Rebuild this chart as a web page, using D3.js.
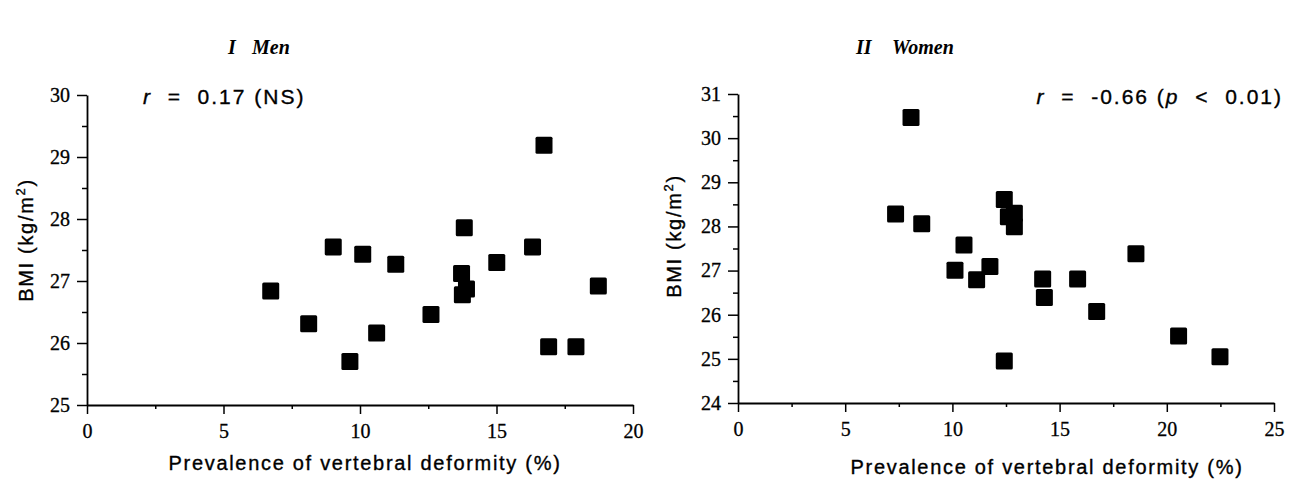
<!DOCTYPE html>
<html>
<head>
<meta charset="utf-8">
<script src="https://cdn.jsdelivr.net/npm/d3@7"></script>
<style>
  body { margin: 0; background: #fff; }
  svg { display: block; }
  .tick-lab { font-family: "Liberation Serif", serif; font-size: 20px; stroke: #000; stroke-width: 0.3px; }
  .ax-title { font-family: "Liberation Sans", sans-serif; font-size: 20px; letter-spacing: 1.7px; stroke: #000; stroke-width: 0.35px; }
  .panel-title { font-family: "Liberation Serif", serif; font-size: 20px; font-style: italic; font-weight: bold; }
  .stat { font-family: "Liberation Sans", sans-serif; font-size: 21px; letter-spacing: 2px; stroke: #000; stroke-width: 0.35px; }
</style>
</head>
<body>
<svg id="chart" width="1297" height="483"></svg>
<script>
// --- data ---
const menPrevalence = [6.73, 8.12, 9.02, 9.63, 10.10, 10.61, 11.31, 12.60, 13.72, 13.75, 13.90, 13.82, 15.01, 16.32, 16.74, 16.91, 17.91, 18.73];
const menBMI        = [26.84, 26.31, 27.55, 25.70, 27.43, 26.16, 27.27, 26.46, 27.12, 26.78, 26.87, 27.86, 27.30, 27.55, 29.19, 25.94, 25.94, 26.92];

const womenPrevalence = [7.35, 8.07, 8.57, 10.12, 10.54, 11.13, 11.75, 12.42, 12.61, 12.89, 12.89, 12.42, 14.21, 14.29, 15.84, 16.73, 18.56, 20.55, 22.48];
const womenBMI        = [28.28, 30.47, 28.06, 27.01, 27.58, 26.79, 27.09, 28.61, 28.22, 28.30, 27.99, 24.95, 26.81, 26.39, 26.81, 26.07, 27.38, 25.52, 25.05];

const menXTicks   = [0, 5, 10, 15, 20];
const menYTicks   = [25, 26, 27, 28, 29, 30];
const womenXTicks = [0, 5, 10, 15, 20, 25];
const womenYTicks = [24, 25, 26, 27, 28, 29, 30, 31];

const xTitle = "Prevalence of vertebral deformity (%)";

const svg = d3.select("#chart");

function drawPanel(cfg) {
  const g = svg.append("g");

  const x = d3.scaleLinear().domain(cfg.xDomain).range(cfg.xRange);
  const y = d3.scaleLinear().domain(cfg.yDomain).range(cfg.yRange);

  // minor ticks (half steps)
  const xMinor = d3.range(cfg.xDomain[0] + 2.5, cfg.xDomain[1], 5);
  const yMinor = d3.range(cfg.yDomain[0] + 0.5, cfg.yDomain[1], 1);

  const xAxisY = cfg.yRange[0];
  const yAxisX = cfg.xRange[0];

  const xAx = g.append("g").attr("transform", `translate(0,${xAxisY})`)
    .call(d3.axisBottom(x).tickValues(cfg.xTicks).tickSize(9).tickSizeOuter(0).tickFormat(d3.format("d")));
  g.append("g").attr("transform", `translate(0,${xAxisY})`)
    .call(d3.axisBottom(x).tickValues(xMinor).tickSize(4).tickSizeOuter(0).tickFormat(""))
    .select(".domain").remove();

  const yAx = g.append("g").attr("transform", `translate(${yAxisX},0)`)
    .call(d3.axisLeft(y).tickValues(cfg.yTicks).tickSize(10).tickSizeOuter(0).tickFormat(d3.format("d")));
  g.append("g").attr("transform", `translate(${yAxisX},0)`)
    .call(d3.axisLeft(y).tickValues(yMinor).tickSize(5).tickSizeOuter(0).tickFormat(""))
    .select(".domain").remove();

  g.selectAll("g").attr("font-size", null).attr("font-family", null);
  g.selectAll(".domain").attr("stroke", "#000").attr("stroke-width", 1.8);
  g.selectAll(".tick line").attr("stroke", "#000").attr("stroke-width", 1.5);
  xAx.selectAll(".tick text").attr("class", "tick-lab").attr("y", 12).attr("dy", 21).attr("fill", "#000");
  yAx.selectAll(".tick text").attr("class", "tick-lab").attr("x", -17).attr("fill", "#000");

  // squares
  const s = 17;
  g.append("g").selectAll("rect")
    .data(cfg.xs.map((v, i) => [v, cfg.ys[i]]))
    .join("rect")
    .attr("x", d => x(d[0]) - s / 2)
    .attr("y", d => y(d[1]) - s / 2)
    .attr("width", s)
    .attr("height", s)
    .attr("rx", 1.5)
    .attr("fill", "#000");

  // axis titles
  g.append("text")
    .attr("class", "ax-title")
    .attr("x", cfg.xTitleX)
    .attr("y", cfg.xTitleY)
    .attr("text-anchor", "middle")
    .text(xTitle);

  const yt = g.append("text")
    .attr("class", "ax-title")
    .attr("transform", `translate(${cfg.yTitleX},${cfg.yTitleMid}) rotate(-90)`)
    .attr("text-anchor", "middle");
  yt.append("tspan").text("BMI (kg/m");
  yt.append("tspan").attr("dy", -8).style("font-size", "13px").text("2");
  yt.append("tspan").attr("dy", 8).text(")");

  // panel title
  const pt = g.append("text").attr("class", "panel-title").attr("y", 54);
  pt.append("tspan").attr("x", cfg.titleX).text(cfg.roman);
  pt.append("tspan").attr("x", cfg.titleX + cfg.titleGap).text(cfg.sex);

  // correlation note
  const st = g.append("text").attr("class", "stat")
    .attr("x", cfg.statX).attr("y", 104)
    .attr("text-anchor", cfg.statAnchor)
    .attr("xml:space", "preserve");
  cfg.stat.forEach(p => {
    st.append("tspan").style("font-style", p.it ? "italic" : "normal").text(p.t);
  });
}

drawPanel({
  xs: menPrevalence, ys: menBMI,
  xDomain: [0, 20], xRange: [87, 633],
  yDomain: [25, 30], yRange: [405, 95],
  xTicks: menXTicks, yTicks: menYTicks,
  xTitleX: 365, xTitleY: 470,
  yTitleX: 33, yTitleMid: 240,
  titleX: 228, titleGap: 24, roman: "I", sex: "Men",
  statX: 143, statAnchor: "start",
  stat: [{ t: "r", it: true }, { t: "  =  0.17 (NS)" }]
});

drawPanel({
  xs: womenPrevalence, ys: womenBMI,
  xDomain: [0, 25], xRange: [738, 1274],
  yDomain: [24, 31], yRange: [403, 94],
  xTicks: womenXTicks, yTicks: womenYTicks,
  xTitleX: 1047, xTitleY: 474,
  yTitleX: 681, yTitleMid: 236,
  titleX: 856, titleGap: 36, roman: "II", sex: "Women",
  statX: 1283, statAnchor: "end",
  stat: [{ t: "r", it: true }, { t: "  =  -0.66 (" }, { t: "p", it: true }, { t: "  <  0.01)" }]
});
</script>
</body>
</html>
